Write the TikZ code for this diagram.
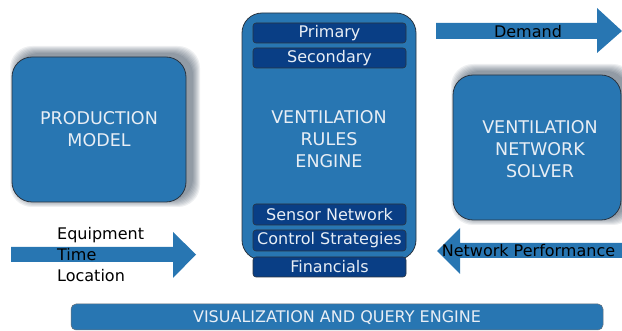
\documentclass[tikz,border=0pt]{standalone}
\usepackage{fontspec}
\setmainfont{DejaVu Sans}
\definecolor{boxblue}{HTML}{2876B2}
\definecolor{darkblue}{HTML}{093E85}
\definecolor{edgecol}{HTML}{2A3440}
\definecolor{lighttext}{HTML}{E8EEF5}
\definecolor{shadowcol}{HTML}{0A1E35}
\tikzset{
  bigbox/.style={fill=boxblue, draw=edgecol, line width=0.8pt, rounded corners=20},
  subbox/.style={fill=darkblue, draw=edgecol, line width=0.6pt, rounded corners=3},
  boxtext/.style={text=lighttext, font=\fontsize{17.5}{22}\selectfont, align=center, inner sep=0pt},
  subtext/.style={text=lighttext, font=\fontsize{16}{18}\selectfont, inner sep=0pt},
  arrowtext/.style={text=black, font=\fontsize{16}{21}\selectfont, inner sep=0pt},
  arrowshape/.style={fill=boxblue},
  shadowlayer/.style={fill=shadowcol, opacity=0.07, rounded corners=22},
}
\begin{document}
\begin{tikzpicture}[x=1pt,y=-1pt]
\useasboundingbox (0,0) rectangle (622,331);

% shadows
\foreach \i in {1,...,8} {
  \fill[shadowlayer] ({12+6-\i},{57-3-\i}) rectangle ({186+6+\i},{202-3+\i});
  \fill[shadowlayer] ({453+6-\i},{75-3-\i}) rectangle ({621+6+\i},{220-3+\i});
}

% production model
\draw[bigbox] (12,57) rectangle (186,202);
\node[boxtext] (prod) at (99,129.5) {PRODUCTION\\MODEL};

% network solver
\draw[bigbox] (453,75) rectangle (621,220);
\node[boxtext] (solver) at (540,149) {VENTILATION\\NETWORK\\SOLVER};

% rules engine
\draw[bigbox] (242,13) rectangle (416,260);
\node[boxtext] (rules) at (329,139.5) {VENTILATION\\RULES\\ENGINE};

\draw[subbox] (253,23) rectangle (406,43);
\node[subtext] (primary) at (329.5,33) {Primary};
\draw[subbox] (253,48) rectangle (406,68);
\node[subtext] (secondary) at (329.5,58) {Secondary};
\draw[subbox] (253,204) rectangle (406,225);
\node[subtext] (sensor) at (329.5,214.5) {Sensor Network};
\draw[subbox] (253,230) rectangle (406,251);
\node[subtext] (control) at (329.5,240.5) {Control Strategies};
\draw[subbox] (253,257) rectangle (406,277);
\node[subtext] (fin) at (329.5,267) {Financials};

% demand arrow
\fill[arrowshape] (436,23) -- (597,23) -- (597,8) -- (622,31) -- (597,53) -- (597,39) -- (436,39) -- cycle;
\node[arrowtext] (demand) at (528,32) {Demand};

% input arrow
\fill[arrowshape] (11,247) -- (173,247) -- (173,232) -- (196,254.5) -- (173,278) -- (173,262) -- (11,262) -- cycle;
\node[arrowtext, align=left, anchor=west] (inputs) at (57,255) {Equipment\\Time\\Location};

% network performance arrow
\fill[arrowshape] (622,243) -- (460,243) -- (460,228) -- (437,251) -- (460,274) -- (460,258) -- (622,258) -- cycle;
\node[arrowtext] (perf) at (528.5,251) {Network Performance};

% visualization bar
\draw[fill=boxblue, draw=edgecol!70, line width=0.5pt, rounded corners=5] (71,304) rectangle (603,330);
\node[subtext] (vis) at (337,318) {VISUALIZATION AND QUERY ENGINE};
\end{tikzpicture}
\end{document}
